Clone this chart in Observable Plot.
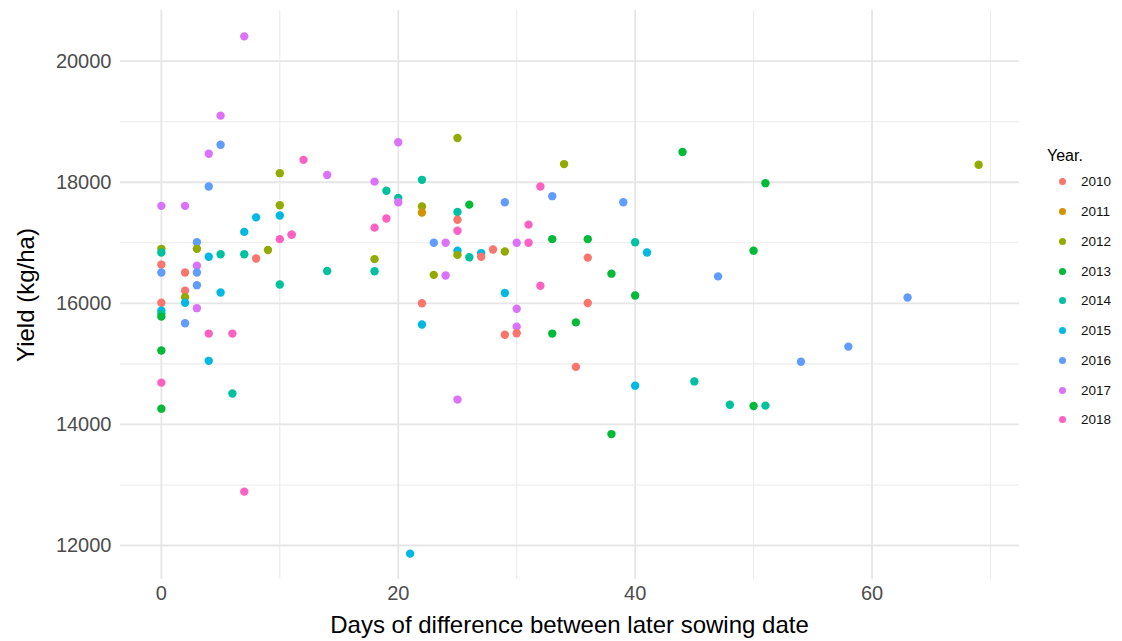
<!DOCTYPE html>
<html><head><meta charset="utf-8">
<script src="https://cdn.jsdelivr.net/npm/d3@7"></script>
<script src="https://cdn.jsdelivr.net/npm/@observablehq/plot@0.6"></script>
<style>
body{margin:0;background:#fff;font-family:"Liberation Sans",Arial,sans-serif;}
#wrap{position:relative;width:1122px;height:641px;overflow:hidden;}
#xtitle{position:absolute;left:120px;width:899px;top:611px;text-align:center;font-size:24px;color:#000;}
#ytitle{position:absolute;left:26px;top:295px;transform:translate(-50%,-50%) rotate(-90deg);font-size:24px;color:#000;white-space:nowrap;}
#legend{position:absolute;left:1047px;top:147px;}
#legend .t{font-size:16px;color:#000;height:20px;}
#legend .it{display:flex;align-items:center;height:29.75px;}
#legend .d{width:7px;height:7px;border-radius:50%;margin-left:12px;margin-right:15px;}
#legend .l{font-size:13.5px;color:#111;}
</style></head><body>
<div id="wrap"><div id="chart"></div>
<div id="xtitle">Days of difference between later sowing date</div>
<div id="ytitle">Yield (kg/ha)</div>
<div id="legend"></div></div>
<script>
const yearLevels = ["2010","2011","2012","2013","2014","2015","2016","2017","2018"];
const yearColors = ["#F8766D","#D39200","#93AA00","#00BA38","#00C19F","#00B9E3","#619CFF","#DB72FB","#FF61C3"];
const legendTitle = "Year.";

const pointYear = [
 "2017","2017","2016","2017","2012","2016",
 "2017","2017","2015","2015","2012","2015","2018","2018","2016","2012","2014","2012","2015","2014","2014","2010","2012",
 "2010","2016","2010","2017","2016","2016","2014","2010","2012","2015","2015","2010","2017","2015","2014","2013","2016",
 "2018","2018","2013","2015","2018","2014","2013","2018",
 "2017","2018","2017","2017","2014","2014","2014","2017","2012","2011","2018","2018","2018","2016","2017","2012","2014","2014","2012","2017",
 "2010","2015",
 "2012","2012","2018","2016","2016","2013","2014","2010","2018","2018","2017","2018","2013","2013","2015","2012","2014","2015","2010","2010","2012","2010","2013","2018","2015",
 "2010","2017","2013","2017","2010","2010","2013","2010","2017","2013",
 "2013","2013","2016","2014","2015","2013","2016","2013",
 "2016","2015","2014","2014","2013","2014",
 "2012","2016","2016","2015"
];
const pointDays = [
 7,5,5,4,10,4,
 0,2,8,10,10,7,10,11,3,0,0,3,4,5,7,8,9,
 0,0,2,3,3,3,10,2,2,2,5,0,3,0,0,0,2,
 4,6,0,4,0,6,0,7,
 20,12,14,18,22,19,20,20,22,22,19,18,11,23,24,18,14,18,23,24,
 22,22,
 25,34,32,33,29,26,25,25,25,31,30,31,33,36,25,25,26,27,27,28,29,36,38,32,29,
 36,30,35,30,29,30,33,35,25,38,
 44,51,39,40,41,50,47,40,
 54,40,45,48,50,51,
 69,63,58,21
];
const pointYield = [
 20410,19100,18620,18470,18150,17930,
 17610,17610,17420,17450,17620,17180,17060,17135,17010,16900,16840,16900,16770,16810,16810,16740,16880,
 16640,16510,16510,16620,16510,16300,16310,16210,16100,16010,16180,16010,15920,15880,15830,15780,15670,
 15500,15500,15220,15050,14690,14510,14260,12890,
 18660,18370,18120,18010,18040,17860,17740,17670,17600,17500,17400,17250,17135,17000,17000,16730,16535,16530,16470,16460,
 16000,15650,
 18730,18300,17930,17770,17670,17630,17510,17380,17200,17300,17000,17000,17060,17060,16870,16800,16760,16830,16770,16890,16855,16755,16490,16290,16170,
 16005,15910,15685,15615,15480,15505,15500,14950,14410,13840,
 18500,17985,17670,17010,16840,16870,16445,16130,
 15035,14640,14710,14325,14305,14310,
 18290,16095,15285,11865
];
const xTicks = [0, 20, 40, 60];
const xMinorTicks = [10, 30, 50, 70];
const yTicks = [12000, 14000, 16000, 18000, 20000];
const yMinorTicks = [13000, 15000, 17000, 19000];

const rows = pointYear.map((y, i) => ({year: y, days: pointDays[i], yield: pointYield[i]}));

const chart = Plot.plot({
  width: 1122,
  height: 641,
  marginLeft: 120,
  marginRight: 103,
  marginTop: 10,
  marginBottom: 62,
  style: {fontFamily: "'Liberation Sans', Arial, sans-serif", background: "#fff"},
  x: {domain: [-3.45, 72.45]},
  y: {domain: [11438, 20837]},
  color: {domain: yearLevels, range: yearColors},
  marks: [
    Plot.gridX(xMinorTicks, {stroke: "#ebebeb", strokeOpacity: 1, strokeWidth: 1.1}),
    Plot.gridY(yMinorTicks, {stroke: "#ebebeb", strokeOpacity: 1, strokeWidth: 1.1}),
    Plot.gridX(xTicks, {stroke: "#e6e6e6", strokeOpacity: 1, strokeWidth: 1.8}),
    Plot.gridY(yTicks, {stroke: "#e6e6e6", strokeOpacity: 1, strokeWidth: 1.8}),
    Plot.axisX({ticks: xTicks, tickSize: 0, tickPadding: 6, fontSize: 20, color: "#4d4d4d", label: null}),
    Plot.axisY({ticks: yTicks, tickSize: 0, tickPadding: 9, fontSize: 20, color: "#4d4d4d", label: null, tickFormat: d => String(d)}),
    Plot.dot(rows, {x: "days", y: "yield", fill: "year", r: 4.2, stroke: null})
  ]
});
document.getElementById("chart").appendChild(chart);

const lg = document.getElementById("legend");
const t = document.createElement("div"); t.className = "t"; t.textContent = legendTitle; lg.appendChild(t);
yearLevels.forEach((y, i) => {
  const it = document.createElement("div"); it.className = "it";
  const d = document.createElement("div"); d.className = "d"; d.style.background = yearColors[i];
  const l = document.createElement("div"); l.className = "l"; l.textContent = y;
  it.appendChild(d); it.appendChild(l); lg.appendChild(it);
});
</script>
</body></html>
